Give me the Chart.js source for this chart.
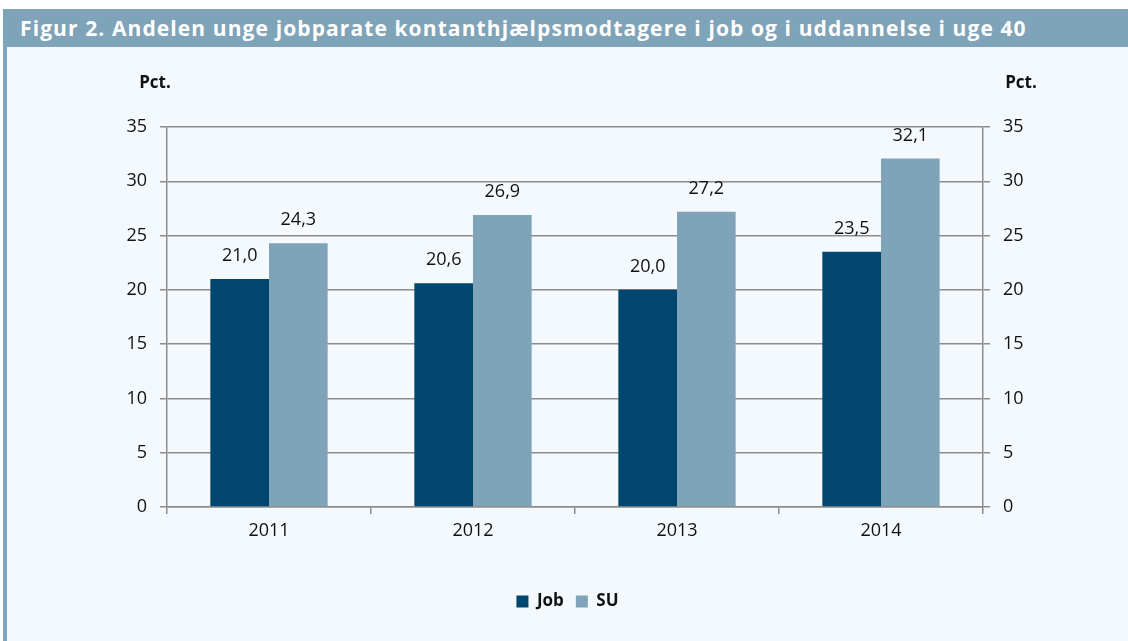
<!DOCTYPE html>
<html>
<head>
<meta charset="utf-8">
<script src="https://cdn.jsdelivr.net/npm/chart.js@4"></script>
<style>
  body { margin: 0; background: #fff; font-family: "Open Sans", sans-serif; }
  #box { position: absolute; left: 3px; top: 9px; width: 1125px; height: 632px; background: #F4F9FD; }
  #title { height: 38px; background: #7FA3B8; color: #fff; font-weight: bold; font-size: 21px;
           letter-spacing: 1.1px; line-height: 38px; padding-left: 17px; white-space: nowrap; }
  #side { position: absolute; left: 0; top: 38px; width: 4px; height: 594px; background: #7FA3B8; }
  #wrap { position: absolute; left: 4px; top: 38px; width: 1121px; height: 594px; }
</style>
</head>
<body>
<div id="box">
  <div id="title">Figur 2. Andelen unge jobparate kontanthjælpsmodtagere i job og i uddannelse i uge 40</div>
  <div id="side"></div>
  <div id="wrap"><canvas id="chart" width="1121" height="594"></canvas></div>
</div>
<script>
var years = ['2011', '2012', '2013', '2014'];
var job = [21.0, 20.6, 20.0, 23.5];
var su = [24.3, 26.9, 27.2, 32.1];
var seriesNames = ['Job', 'SU'];
var yTicks = [0, 5, 10, 15, 20, 25, 30, 35];

var gridColor = '#8C8C8C';
var font = { family: '"Open Sans", sans-serif', size: 18 };

// value labels above the bars, Danish decimal comma
var valueLabels = {
    id: 'valueLabels',
    afterDatasetsDraw: function(chart) {
        var ctx = chart.ctx;
        ctx.save();
        ctx.font = '18px "Open Sans", sans-serif';
        ctx.fillStyle = '#111';
        ctx.textAlign = 'center';
        ctx.textBaseline = 'middle';
        chart.data.datasets.forEach(function(ds, i) {
            chart.getDatasetMeta(i).data.forEach(function(bar, j) {
                ctx.fillText(ds.data[j].toFixed(1).replace('.', ','), bar.x, bar.y - 23);
            });
        });
        ctx.restore();
    }
};

// "Pct." over both axes
var unitLabels = {
    id: 'unitLabels',
    afterDraw: function(chart) {
        var ctx = chart.ctx, a = chart.chartArea;
        ctx.save();
        ctx.font = 'bold 17px "Open Sans", sans-serif';
        ctx.fillStyle = '#111';
        ctx.textAlign = 'center';
        ctx.textBaseline = 'middle';
        ctx.fillText('Pct.', a.left - 12, 36);
        ctx.fillText('Pct.', a.right + 38, 36);
        ctx.restore();
    }
};

new Chart(document.getElementById('chart'), {
    type: 'bar',
    data: {
        labels: years,
        datasets: [
            { label: seriesNames[0], data: job, backgroundColor: '#00466E', yAxisID: 'y' },
            { label: seriesNames[1], data: su, backgroundColor: '#7FA3B8', yAxisID: 'y' }
        ]
    },
    options: {
        responsive: false,
        animation: false,
        layout: { padding: { top: 80, bottom: 21 } },
        datasets: { bar: { barPercentage: 1, categoryPercentage: 0.575 } },
        scales: {
            x: {
                offset: true,
                grid: { offset: true, drawOnChartArea: false, color: gridColor, lineWidth: 1.5, tickLength: 7 },
                border: { color: gridColor, width: 1.5 },
                ticks: { font: font, color: '#111', padding: 6 },
                afterFit: function(s) { s.height = 74; }
            },
            y: {
                position: 'left',
                min: 0, max: 35,
                afterBuildTicks: function(s) { s.ticks = yTicks.map(function(v) { return { value: v }; }); },
                grid: { color: gridColor, lineWidth: 1.5, tickLength: 7 },
                border: { color: gridColor, width: 1.5 },
                ticks: { font: font, color: '#111', padding: 13 },
                afterFit: function(s) { s.width = 160; }
            },
            y2: {
                position: 'right',
                min: 0, max: 35,
                afterBuildTicks: function(s) { s.ticks = yTicks.map(function(v) { return { value: v }; }); },
                grid: { drawOnChartArea: false, color: gridColor, lineWidth: 1.5, tickLength: 7 },
                border: { color: gridColor, width: 1.5 },
                ticks: { font: font, color: '#111', padding: 13 },
                afterFit: function(s) { s.width = 145; }
            }
        },
        plugins: {
            legend: {
                position: 'bottom',
                labels: {
                    boxWidth: 12, boxHeight: 12, padding: 12,
                    color: '#111',
                    font: { family: '"Open Sans", sans-serif', size: 17, weight: 'bold' }
                }
            },
            tooltip: { enabled: false }
        }
    },
    plugins: [valueLabels, unitLabels]
});
</script>
</body>
</html>
